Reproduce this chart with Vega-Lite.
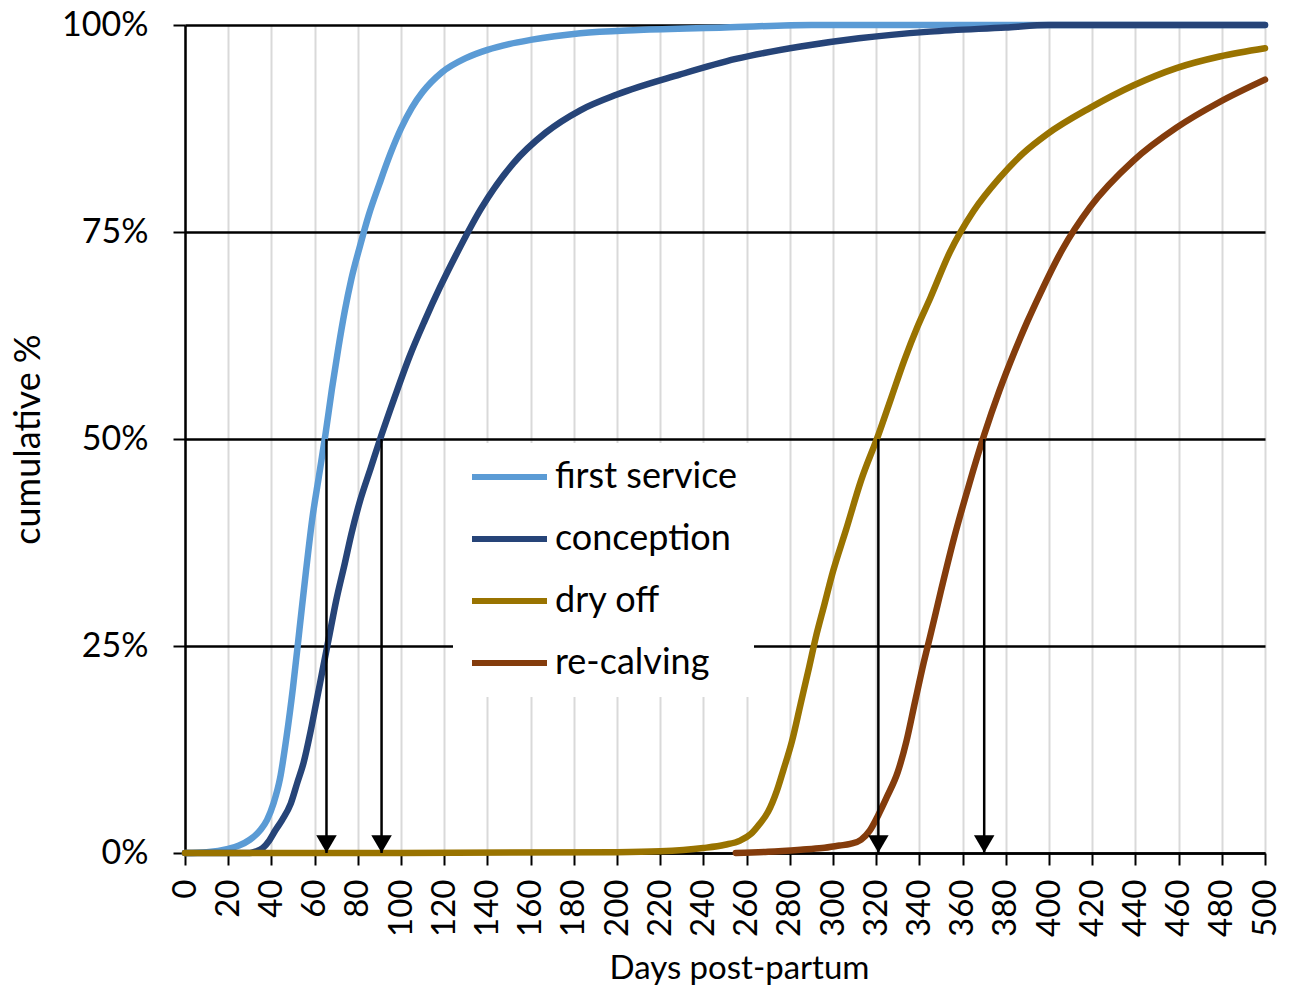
{
  "$schema": "https://vega.github.io/schema/vega-lite/v6.json",
  "autosize": {"type": "none"},
  "padding": {"left": 185, "top": 25, "right": 31, "bottom": 142},
  "width": 1080,
  "height": 828,
  "background": "white",
  "config": {"view": {"stroke": null}, "font": "Lato"},
  "datasets": {
    "curves": [
      {"series": "first service", "day": 0, "pct": 0},
      {"series": "first service", "day": 10, "pct": 0.1},
      {"series": "first service", "day": 20, "pct": 0.5},
      {"series": "first service", "day": 25, "pct": 0.9},
      {"series": "first service", "day": 30, "pct": 1.6},
      {"series": "first service", "day": 35, "pct": 2.8},
      {"series": "first service", "day": 38, "pct": 4},
      {"series": "first service", "day": 41, "pct": 6},
      {"series": "first service", "day": 44, "pct": 9},
      {"series": "first service", "day": 47, "pct": 14},
      {"series": "first service", "day": 50, "pct": 20},
      {"series": "first service", "day": 53, "pct": 27},
      {"series": "first service", "day": 56, "pct": 34},
      {"series": "first service", "day": 59, "pct": 40.5},
      {"series": "first service", "day": 62, "pct": 45.5},
      {"series": "first service", "day": 65, "pct": 50.5},
      {"series": "first service", "day": 68, "pct": 56},
      {"series": "first service", "day": 71, "pct": 61},
      {"series": "first service", "day": 74, "pct": 65.5},
      {"series": "first service", "day": 77, "pct": 69.3},
      {"series": "first service", "day": 81, "pct": 73.3},
      {"series": "first service", "day": 85, "pct": 77},
      {"series": "first service", "day": 90, "pct": 80.8},
      {"series": "first service", "day": 95, "pct": 84.4},
      {"series": "first service", "day": 100, "pct": 87.5},
      {"series": "first service", "day": 105, "pct": 90},
      {"series": "first service", "day": 110, "pct": 91.9},
      {"series": "first service", "day": 119, "pct": 94.3},
      {"series": "first service", "day": 130, "pct": 96},
      {"series": "first service", "day": 140, "pct": 97},
      {"series": "first service", "day": 150, "pct": 97.7},
      {"series": "first service", "day": 160, "pct": 98.2},
      {"series": "first service", "day": 183, "pct": 99},
      {"series": "first service", "day": 210, "pct": 99.4},
      {"series": "first service", "day": 250, "pct": 99.7},
      {"series": "first service", "day": 290, "pct": 100},
      {"series": "first service", "day": 500, "pct": 100},
      {"series": "conception", "day": 0, "pct": 0},
      {"series": "conception", "day": 30, "pct": 0},
      {"series": "conception", "day": 33, "pct": 0.2},
      {"series": "conception", "day": 36, "pct": 0.6},
      {"series": "conception", "day": 39, "pct": 1.5},
      {"series": "conception", "day": 42, "pct": 2.8},
      {"series": "conception", "day": 45, "pct": 4},
      {"series": "conception", "day": 49, "pct": 6},
      {"series": "conception", "day": 52, "pct": 8.5},
      {"series": "conception", "day": 55, "pct": 11},
      {"series": "conception", "day": 58, "pct": 14.5},
      {"series": "conception", "day": 61, "pct": 18.5},
      {"series": "conception", "day": 64, "pct": 22.5},
      {"series": "conception", "day": 67, "pct": 26.5},
      {"series": "conception", "day": 70, "pct": 30.5},
      {"series": "conception", "day": 74, "pct": 35},
      {"series": "conception", "day": 77, "pct": 38.5},
      {"series": "conception", "day": 81, "pct": 42.5},
      {"series": "conception", "day": 86, "pct": 46.5},
      {"series": "conception", "day": 91, "pct": 50.5},
      {"series": "conception", "day": 97, "pct": 55},
      {"series": "conception", "day": 104, "pct": 60},
      {"series": "conception", "day": 111, "pct": 64.3},
      {"series": "conception", "day": 118, "pct": 68.3},
      {"series": "conception", "day": 126, "pct": 72.5},
      {"series": "conception", "day": 137, "pct": 77.8},
      {"series": "conception", "day": 152, "pct": 83.3},
      {"series": "conception", "day": 167, "pct": 87},
      {"series": "conception", "day": 183, "pct": 89.7},
      {"series": "conception", "day": 200, "pct": 91.6},
      {"series": "conception", "day": 229, "pct": 94},
      {"series": "conception", "day": 255, "pct": 95.9},
      {"series": "conception", "day": 285, "pct": 97.4},
      {"series": "conception", "day": 312, "pct": 98.4},
      {"series": "conception", "day": 345, "pct": 99.2},
      {"series": "conception", "day": 380, "pct": 99.7},
      {"series": "conception", "day": 400, "pct": 100},
      {"series": "conception", "day": 500, "pct": 100},
      {"series": "dry off", "day": 0, "pct": 0},
      {"series": "dry off", "day": 100, "pct": 0},
      {"series": "dry off", "day": 200, "pct": 0.1},
      {"series": "dry off", "day": 220, "pct": 0.2},
      {"series": "dry off", "day": 240, "pct": 0.6},
      {"series": "dry off", "day": 250, "pct": 1},
      {"series": "dry off", "day": 257, "pct": 1.5},
      {"series": "dry off", "day": 262, "pct": 2.3},
      {"series": "dry off", "day": 266, "pct": 3.5},
      {"series": "dry off", "day": 270, "pct": 5},
      {"series": "dry off", "day": 274, "pct": 7.5},
      {"series": "dry off", "day": 277, "pct": 10},
      {"series": "dry off", "day": 281, "pct": 13.5},
      {"series": "dry off", "day": 285, "pct": 18},
      {"series": "dry off", "day": 289, "pct": 22.5},
      {"series": "dry off", "day": 292, "pct": 26},
      {"series": "dry off", "day": 296, "pct": 30},
      {"series": "dry off", "day": 300, "pct": 34},
      {"series": "dry off", "day": 306, "pct": 39},
      {"series": "dry off", "day": 313, "pct": 45},
      {"series": "dry off", "day": 321, "pct": 50.5},
      {"series": "dry off", "day": 327, "pct": 55},
      {"series": "dry off", "day": 333, "pct": 59.5},
      {"series": "dry off", "day": 339, "pct": 63.5},
      {"series": "dry off", "day": 345, "pct": 67},
      {"series": "dry off", "day": 354, "pct": 72.5},
      {"series": "dry off", "day": 365, "pct": 77.5},
      {"series": "dry off", "day": 377, "pct": 81.5},
      {"series": "dry off", "day": 388, "pct": 84.5},
      {"series": "dry off", "day": 399, "pct": 86.8},
      {"series": "dry off", "day": 419, "pct": 90},
      {"series": "dry off", "day": 439, "pct": 92.7},
      {"series": "dry off", "day": 459, "pct": 94.8},
      {"series": "dry off", "day": 479, "pct": 96.2},
      {"series": "dry off", "day": 500, "pct": 97.2},
      {"series": "re-calving", "day": 255, "pct": 0},
      {"series": "re-calving", "day": 270, "pct": 0.15},
      {"series": "re-calving", "day": 285, "pct": 0.4},
      {"series": "re-calving", "day": 295, "pct": 0.6},
      {"series": "re-calving", "day": 303, "pct": 0.9},
      {"series": "re-calving", "day": 308, "pct": 1.1},
      {"series": "re-calving", "day": 313, "pct": 1.6},
      {"series": "re-calving", "day": 317, "pct": 2.7},
      {"series": "re-calving", "day": 321, "pct": 4.6},
      {"series": "re-calving", "day": 325, "pct": 6.8},
      {"series": "re-calving", "day": 330, "pct": 9.8},
      {"series": "re-calving", "day": 334, "pct": 13.5},
      {"series": "re-calving", "day": 338, "pct": 18.3},
      {"series": "re-calving", "day": 342, "pct": 23},
      {"series": "re-calving", "day": 345, "pct": 26.2},
      {"series": "re-calving", "day": 350, "pct": 31.7},
      {"series": "re-calving", "day": 356, "pct": 38},
      {"series": "re-calving", "day": 363, "pct": 44.5},
      {"series": "re-calving", "day": 370, "pct": 50.5},
      {"series": "re-calving", "day": 377, "pct": 55.8},
      {"series": "re-calving", "day": 384, "pct": 60.5},
      {"series": "re-calving", "day": 390, "pct": 64.2},
      {"series": "re-calving", "day": 396, "pct": 67.6},
      {"series": "re-calving", "day": 406, "pct": 72.8},
      {"series": "re-calving", "day": 419, "pct": 78},
      {"series": "re-calving", "day": 439, "pct": 83.6},
      {"series": "re-calving", "day": 459, "pct": 87.6},
      {"series": "re-calving", "day": 479, "pct": 90.7},
      {"series": "re-calving", "day": 500, "pct": 93.4}
    ],
    "arrows": [
      {"day": 65.5},
      {"day": 91},
      {"day": 321},
      {"day": 370}
    ]
  },
  "encoding": {
    "x": {
      "field": "day", "type": "quantitative",
      "scale": {"domain": [0, 500], "nice": false, "zero": false},
      "title": "Days post-partum",
      "axis": {
        "values": [0, 20, 40, 60, 80, 100, 120, 140, 160, 180, 200, 220, 240, 260, 280, 300, 320, 340, 360, 380, 400, 420, 440, 460, 480, 500],
        "labelAngle": -90, "labelFontSize": 33, "labelColor": "black", "labelPadding": 14,
        "labelFlush": false, "labelOverlap": false,
        "tickSize": 12, "tickColor": "black", "tickWidth": 2,
        "domainColor": "black", "domainWidth": 2.5,
        "grid": true, "gridColor": "#d9d9d9", "gridWidth": 2,
        "titleFontSize": 33, "titleFontWeight": "normal", "titleColor": "black", "titlePadding": 16, "titleX": 554
      }
    }
  },
  "layer": [
    {
      "data": {"name": "curves"},
      "mark": {"type": "line", "strokeWidth": 6.5, "interpolate": "monotone", "strokeCap": "round", "strokeJoin": "round"},
      "encoding": {
        "y": {
          "field": "pct", "type": "quantitative",
          "scale": {"domain": [0, 100], "nice": false},
          "title": "cumulative %",
          "axis": {
            "values": [0, 25, 50, 75, 100],
            "labelExpr": "datum.value + '%'",
            "labelFontSize": 34, "labelColor": "black", "labelPadding": 25,
            "tickSize": 12, "tickColor": "black", "tickWidth": 2,
            "domainColor": "black", "domainWidth": 2.5,
            "grid": true, "gridColor": "black", "gridWidth": 2.5,
            "titleFontSize": 36, "titleFontWeight": "normal", "titleColor": "black", "titlePadding": 14
          }
        },
        "color": {
          "field": "series", "type": "nominal",
          "scale": {"domain": ["first service", "conception", "dry off", "re-calving"], "range": ["#5B9BD5", "#264478", "#997300", "#843C0C"]},
          "legend": {
            "title": null, "orient": "none", "legendX": 268, "legendY": 418,
            "fillColor": "white", "padding": 16,
            "symbolType": "stroke", "symbolSize": 5625, "symbolStrokeWidth": 6,
            "clipHeight": 36, "rowPadding": 26,
            "labelFontSize": 36, "labelColor": "black", "labelLimit": 0, "labelOffset": 5
          }
        }
      }
    },
    {
      "data": {"name": "arrows"},
      "mark": {"type": "rule", "color": "black", "strokeWidth": 2.5},
      "encoding": {
        "y": {"datum": 50},
        "y2": {"datum": 0}
      }
    },
    {
      "data": {"name": "arrows"},
      "mark": {"type": "point", "shape": "triangle-down", "filled": true, "color": "black", "size": 420, "opacity": 1, "yOffset": -9},
      "encoding": {
        "y": {"datum": 0}
      }
    }
  ]
}
